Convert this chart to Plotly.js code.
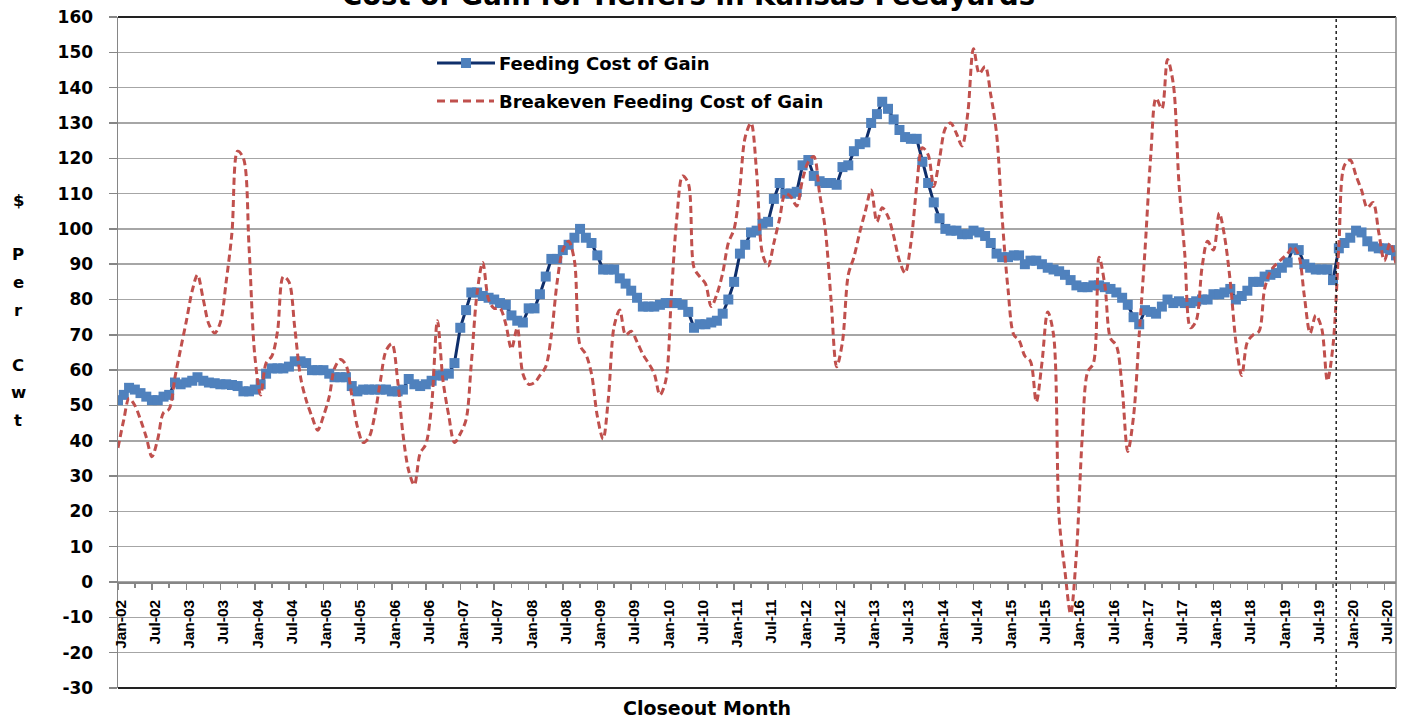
<!DOCTYPE html>
<html>
<head>
<meta charset="utf-8">
<script src="https://cdn.plot.ly/plotly-3.0.1.min.js"></script>
<style>html,body{margin:0;padding:0;background:#fff;}#chart{width:1402px;height:719px;}</style>
</head>
<body>
<div id="chart"></div>
<script>
// ---- categories: monthly closeout months, Jan-02 .. Sep-20 ----
const startYear = 2002;
const monthCount = 225;
const months = [];
for (let i = 0; i < monthCount; i++) {
  const y = startYear + Math.floor(i / 12);
  const m = (i % 12) + 1;
  months.push(y + '-' + (m < 10 ? '0' + m : m) + '-01');
}

// ---- Feeding Cost of Gain ($/cwt), one row per year ----
const feeding2002_2006 = [
  51.5, 53, 55, 54.5, 53.5, 52.5, 51.5, 51.5, 52.5, 53, 56.5, 56,
  56.5, 57, 58, 57, 56.5, 56.3, 56, 56, 55.8, 55.5, 54, 54,
  54.5, 56, 59, 60.5, 60.5, 60.5, 61, 62.5, 62.5, 62, 60, 60,
  60, 59, 58, 58, 58, 55.5, 54, 54.5, 54.5, 54.5, 54.5, 54.5,
  54, 54, 54.5, 57.5, 56, 55.5, 56, 57, 58.5, 58.5, 59, 62
];
const feeding2007_2012 = [
  72, 77, 82, 82, 81, 80.5, 80, 79, 78.5, 75.5, 74, 73.5,
  77.5, 77.5, 81.5, 86.5, 91.5, 91.5, 94, 95.5, 97.5, 100, 97.5, 96,
  92.5, 88.5, 88.5, 88.5, 86, 84.5, 82.5, 80.5, 78, 78, 78, 78.5,
  79, 79, 79, 78.5, 76.5, 72, 73, 73, 73.5, 74, 76, 80,
  85, 93, 95.5, 99, 99.5, 101.5, 102, 108.5, 113, 110, 110, 110.5,
  118, 119.5, 115, 113.5, 113, 113, 112.5, 117.5, 118, 122, 124, 124.5
];
const feeding2013_2020 = [
  130, 132.5, 136, 134, 131, 128, 126, 125.5, 125.5, 119, 113, 107.5,
  103, 100, 99.5, 99.5, 98.5, 98.5, 99.5, 99, 98, 96, 93, 92,
  92, 92.5, 92.5, 90, 91, 91, 90, 89, 88.5, 88, 87, 85.5,
  84, 83.5, 83.5, 84, 84, 83.5, 83, 82, 80.5, 78.5, 75, 73,
  77, 76.5, 76, 78, 80, 79, 79.5, 79, 79, 79.5, 80, 80,
  81.5, 81.5, 82, 83, 80, 81, 82.5, 85, 85, 86.5, 87, 87.5,
  89, 90.5, 94.5, 94, 90, 89, 88.5, 88.5, 88.5, 85.5, 94.5, 96,
  97.5, 99.5, 99, 96.5, 95, 94.5, 94.5, 94, 92.5
];
const feedingCost = feeding2002_2006.concat(feeding2007_2012, feeding2013_2020);

// ---- Breakeven Feeding Cost of Gain ($/cwt) ----
const breakeven2002_2006 = [
  38, 46, 52, 50, 46, 41, 35.5, 40.5, 48, 49, 58, 66,
  74, 82.5, 87, 80, 73, 70.5, 73.5, 85, 99, 122, 120, 95,
  64, 53, 62, 64, 71, 86.5, 85, 72, 58, 51.5, 46.8, 43,
  47, 52.5, 60.5, 63, 61.5, 53, 44, 39.5, 41, 47, 57, 65.5,
  67.5, 57, 42, 31.5, 27.5, 36.5, 39, 50, 74, 57, 47, 39.5
];
const breakeven2007_2012 = [
  42, 46, 62, 82, 90.5, 80, 77.5, 77.5, 73, 66, 72, 59,
  56, 56.5, 58.5, 61, 70, 85, 94, 96.5, 91, 67, 64.5, 59,
  47, 40.5, 52, 72.5, 77, 70, 71, 68, 64.5, 62, 59, 53,
  57, 82, 103, 115, 113, 89, 86.5, 84.5, 78, 81.5, 87.5, 96,
  100, 112, 126, 130, 116, 93, 89.5, 96, 103, 110, 109, 106.5,
  114, 119, 120.5, 110, 100, 80, 61, 68, 87, 92, 99, 105
];
const breakeven2013_2020 = [
  111, 102, 106, 103.5, 98, 91, 87.5, 96, 112, 123, 121, 112,
  120, 128.5, 130, 127, 123.5, 133, 151, 144, 146, 138, 127, 103,
  83, 70, 68.5, 64, 62.5, 51, 62, 76.5, 70, 18, 3, -9,
  8, 41, 59.5, 62, 92, 84, 69, 67, 55, 37, 47, 70,
  94, 121, 137, 134, 148, 141, 113, 93, 72, 74, 89, 96.5,
  94, 104.5, 98, 85, 68, 58.5, 68, 70, 71, 83, 88, 90,
  91.5, 93, 95, 92.5, 81, 70.5, 75.5, 72, 57, 67, 95, 118,
  119.5, 115, 111, 106, 107.5, 99, 91, 96, 90
];
const breakevenCost = breakeven2002_2006.concat(breakeven2007_2012, breakeven2013_2020);

// ---- y tick values and labels (hyphen minus as in the original) ----
const yTickVals = [-30, -20, -10, 0, 10, 20, 30, 40, 50, 60, 70, 80, 90, 100, 110, 120, 130, 140, 150, 160];
const yTickLabels = ['-30', '-20', '-10', '0', '10', '20', '30', '40', '50', '60', '70', '80', '90',
                     '100', '110', '120', '130', '140', '150', '160'];

const seriesNames = ['Feeding Cost of Gain', 'Breakeven Feeding Cost of Gain'];
const yTitleLetters = ['$', '', 'P', 'e', 'r', '', 'C', 'w', 't'];
const chartTitle = 'Cost of Gain for Heifers in Kansas Feedyards';
const xTitle = 'Closeout Month';

// ---- layout geometry helpers (pixels -> paper) ----
const W = 1402, H = 719;
const L = 118, R = 1396, T = 17, B = 688;
const px = v => (v - L) / (R - L);
const py = v => (B - v) / (B - T);

const blueLine = '#0f2f6b', blueMarker = '#4f81bd', red = '#c0504d';
const gridCol = '#a6a6a6', axisCol = '#868686';
const fontFam = '"DejaVu Sans", Verdana, sans-serif';

const traces = [
  {
    x: months, y: feedingCost, type: 'scatter', mode: 'lines+markers',
    name: seriesNames[0],
    line: {color: blueLine, width: 3},
    marker: {symbol: 'square', size: 10, color: blueMarker, line: {width: 0}},
    showlegend: false, hoverinfo: 'x+y'
  },
  {
    x: months, y: breakevenCost, type: 'scatter', mode: 'lines',
    name: seriesNames[1],
    line: {color: red, width: 3, dash: '7px,4px', shape: 'spline', smoothing: 0.9},
    showlegend: false, hoverinfo: 'x+y'
  }
];

const shapes = [
  // plot frame
  {type: 'line', xref: 'paper', yref: 'paper', x0: 0, x1: 1, y0: 1, y1: 1, line: {color: '#222', width: 2}},
  {type: 'line', xref: 'paper', yref: 'paper', x0: 0, x1: 1, y0: 0, y1: 0, line: {color: '#222', width: 2}},
  {type: 'line', xref: 'paper', yref: 'paper', x0: 1, x1: 1, y0: 0, y1: 1, line: {color: axisCol, width: 1.5}},
  // projection divider
  {type: 'line', xref: 'x', yref: 'paper', x0: '2019-10-18', x1: '2019-10-18', y0: 0, y1: 1,
   line: {color: '#222', width: 1.5, dash: 'dot'}},
  // legend swatches
  {type: 'line', xref: 'paper', yref: 'paper', x0: px(437), x1: px(495), y0: py(63), y1: py(63),
   line: {color: blueLine, width: 3}},
  {type: 'rect', xref: 'paper', yref: 'paper', x0: px(461), x1: px(471), y0: py(68), y1: py(58),
   fillcolor: blueMarker, line: {width: 0}},
  {type: 'line', xref: 'paper', yref: 'paper', x0: px(437), x1: px(494), y0: py(101), y1: py(101),
   line: {color: red, width: 3, dash: '8px,5px'}}
];

const annotations = [
  {text: seriesNames[0], xref: 'paper', yref: 'paper', x: px(497), y: py(63), xanchor: 'left', yanchor: 'middle',
   showarrow: false, font: {family: fontFam, size: 18, color: '#000', weight: 'bold'}},
  {text: seriesNames[1], xref: 'paper', yref: 'paper', x: px(497), y: py(101), xanchor: 'left', yanchor: 'middle',
   showarrow: false, font: {family: fontFam, size: 18, color: '#000', weight: 'bold'}},
  {text: chartTitle, xref: 'paper', yref: 'paper', x: px(688), y: py(-4.5), xanchor: 'center', yanchor: 'middle',
   showarrow: false, font: {family: fontFam, size: 27.5, color: '#000', weight: 'bold'}},
  {text: xTitle, xref: 'paper', yref: 'paper', x: px(707), y: py(708), xanchor: 'center', yanchor: 'middle',
   showarrow: false, font: {family: fontFam, size: 19, color: '#000', weight: 'bold'}}
];
yTitleLetters.forEach((ch, i) => {
  if (!ch) return;
  annotations.push({text: ch, xref: 'paper', yref: 'paper', x: px(18), y: py(200 + i * 27.5),
    xanchor: 'center', yanchor: 'middle', showarrow: false,
    font: {family: fontFam, size: 16.5, color: '#000', weight: 'bold'}});
});

const layout = {
  width: W, height: H,
  margin: {l: L, r: W - R, t: T, b: H - B, pad: 0},
  paper_bgcolor: '#fff', plot_bgcolor: '#fff',
  showlegend: false,
  xaxis: {
    type: 'date',
    range: [months[0], months[months.length - 1]],
    anchor: 'free', position: 30 / 190,
    tick0: months[0], dtick: 'M6', tickformat: '%b-%y',
    tickangle: -90, ticks: 'outside', ticklen: 6, tickwidth: 1.5, tickcolor: axisCol,
    ticklabelstandoff: 4, ticklabelshift: 3,
    tickfont: {family: '"Liberation Sans", Arial, sans-serif', size: 15.5, color: '#000', weight: 'bold'},
    minor: {dtick: 'M3', tick0: months[0], ticks: 'outside', ticklen: 4, tickwidth: 1.5, tickcolor: axisCol, showgrid: false},
    showgrid: false, zeroline: false,
    showline: true, linecolor: axisCol, linewidth: 1.5
  },
  yaxis: {
    range: [-30, 160], tickmode: 'array', tickvals: yTickVals, ticktext: yTickLabels,
    ticks: 'outside', ticklen: 8, tickwidth: 1.5, tickcolor: axisCol,
    ticklabelstandoff: 12,
    tickfont: {family: fontFam, size: 17, color: '#000', weight: 'bold'},
    showgrid: true, gridcolor: gridCol, gridwidth: 1.5,
    zeroline: false, showline: true, linecolor: axisCol, linewidth: 1.5
  },
  shapes: shapes,
  annotations: annotations
};

Plotly.newPlot('chart', traces, layout, {displayModeBar: false, staticPlot: true});
</script>
</body>
</html>
